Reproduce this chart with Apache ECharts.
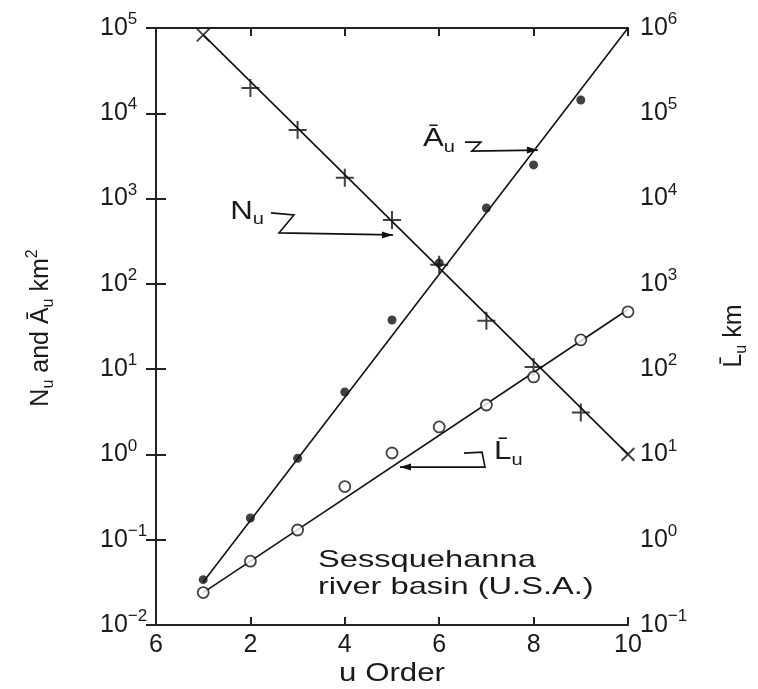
<!DOCTYPE html>
<html><head><meta charset="utf-8">
<script src="https://cdn.jsdelivr.net/npm/echarts@6/dist/echarts.min.js"></script>
<style>html,body{margin:0;padding:0;background:#fff}#c{width:758px;height:689px}</style>
</head><body><div id="c"></div>
<script>
// ---- data ----
const orders = [1, 2, 3, 4, 5, 6, 7, 8, 9, 10];
const xTickLabels = ['6', '2', '4', '6', '8', '10'];
const streamNumbers = [82800, 19800, 6370, 1750, 560, 167, 37, 10.6, 3.1, 1.0];    // N_u (left axis)
const areaOrders = [1, 2, 3, 4, 5, 6, 7, 8, 9];
const meanAreas = [0.034, 0.18, 0.9, 5.4, 37.7, 176, 776, 2480, 14300];           // A_u km^2 (left axis)
const meanLengths = [0.24, 0.56, 1.3, 4.2, 10.4, 21, 38, 81, 220, 470];           // L_u km (right axis)
const fitOrders = [1, 10];
const numberFit = [83000, 1.0];
const areaFit = [0.032, 100000];
const lengthFit = [0.24, 500];
const arrowTipA = [8.09, 3700];   // left axis
const arrowTipN = [5.02, 375];    // left axis
const arrowTipL = [5.17, 7.1];    // right axis

const FONT = 'Liberation Sans';
const INK = '#1a1a1a';
const chart = echarts.init(document.getElementById('c'), null, {renderer: 'canvas'});

function supLabel(v) {
  const e = Math.round(Math.log10(v));
  const s = e < 0 ? '\u2212' + (-e) : String(e);
  return '{b|10}{s|' + s + '}';
}
const tickRich = {
  b: {fontSize: 25, fontFamily: FONT, color: INK, lineHeight: 34},
  s: {fontSize: 17, fontFamily: FONT, color: INK, verticalAlign: 'top'}
};
const axisLine = {show: true, lineStyle: {color: '#222', width: 2}};

const pair = (xs, ys) => xs.map((x, i) => [x, ys[i]]);

const nData = orders.map((u, i) => {
  const end = (i === 0 || i === orders.length - 1);
  return {value: [u, streamNumbers[i]], symbolRotate: end ? 45 : 0};
});

chart.setOption({
  animation: false,
  backgroundColor: '#fff',
  grid: {left: 156, right: 130, top: 28, bottom: 64},
  xAxis: [
    {type: 'value', min: 0, max: 10, interval: 2, position: 'bottom',
     axisLine: axisLine, splitLine: {show: false},
     axisTick: {inside: true, length: 8, lineStyle: {color: '#222', width: 2}},
     axisLabel: {margin: 8, fontSize: 25, fontFamily: FONT, color: INK,
       formatter: v => xTickLabels[Math.round(v / 2)]}},
    {type: 'value', min: 0, max: 10, interval: 2, position: 'top',
     axisLine: axisLine, splitLine: {show: false},
     axisTick: {inside: true, length: 8, lineStyle: {color: '#222', width: 2}},
     axisLabel: {show: false}}
  ],
  yAxis: [
    {type: 'log', logBase: 10, min: 0.01, max: 100000, position: 'left',
     axisLine: axisLine, splitLine: {show: false},
     axisTick: {inside: true, length: 10, lineStyle: {color: '#222', width: 2}},
     axisLabel: {align: 'left', margin: 56, formatter: supLabel, rich: tickRich}},
    {type: 'log', logBase: 10, min: 0.1, max: 1000000, position: 'right',
     axisLine: axisLine, splitLine: {show: false},
     axisTick: {inside: true, length: 10, lineStyle: {color: '#222', width: 2}},
     axisLabel: {align: 'left', margin: 12, formatter: supLabel, rich: tickRich}}
  ],
  series: [
    {type: 'line', yAxisIndex: 0, data: pair(fitOrders, numberFit), showSymbol: false,
     lineStyle: {color: '#111', width: 1.6}, z: 2},
    {type: 'line', yAxisIndex: 0, data: pair(fitOrders, areaFit), showSymbol: false,
     lineStyle: {color: '#111', width: 1.6}, z: 2},
    {type: 'line', yAxisIndex: 1, data: pair(fitOrders, lengthFit), showSymbol: false,
     lineStyle: {color: '#111', width: 1.6}, z: 2},
    {type: 'scatter', yAxisIndex: 0, data: nData,
     symbol: 'path://M5,0L5,10M0,5L10,5', symbolSize: 18,
     itemStyle: {color: 'none', borderColor: '#111', borderWidth: 2}, z: 4},
    {type: 'scatter', yAxisIndex: 0, data: pair(areaOrders, meanAreas),
     symbol: 'circle', symbolSize: 9, itemStyle: {color: '#111'}, z: 4},
    {type: 'scatter', yAxisIndex: 1, data: pair(orders, meanLengths),
     symbol: 'circle', symbolSize: 11,
     itemStyle: {color: '#fff', borderColor: '#111', borderWidth: 1.8}, z: 4}
  ]
});

// ---- annotations ----
const px = (pt, yi) => chart.convertToPixel({xAxisIndex: 0, yAxisIndex: yi}, pt);
const tA = px(arrowTipA, 0), tN = px(arrowTipN, 0), tL = px(arrowTipL, 1);
const off = (t, dx, dy) => [t[0] + dx, t[1] + dy];
const lineSt = {stroke: '#111', lineWidth: 1.6, fill: null};
const subRich = {
  sb: {fontSize: 16, fontFamily: FONT, fill: INK, verticalAlign: 'bottom'},
  sp: {fontSize: 16, fontFamily: FONT, fill: INK, verticalAlign: 'top'}
};
function label(text, x, y, align, extra) {
  return Object.assign({
    type: 'text', x: x, y: y, z: 10,
    style: {text: text, rich: subRich, fontSize: 25, lineHeight: 32, fontFamily: FONT,
            fill: INK, align: align, textAlign: align, verticalAlign: 'middle', textVerticalAlign: 'middle'}
  }, extra || {});
}
function arrowRight(t) { return {type: 'polygon', z: 10, shape: {points: [t, off(t, -11, -3.5), off(t, -11, 3.5)]}, style: {fill: '#111'}}; }
function arrowLeft(t) { return {type: 'polygon', z: 10, shape: {points: [t, off(t, 11, -3.5), off(t, 11, 3.5)]}, style: {fill: '#111'}}; }

const graphics = [
  // A_u
  {type: 'polyline', z: 10, shape: {points: [tA, off(tA, -66, 1), off(tA, -57, -8), off(tA, -73, -8)]}, style: lineSt},
  arrowRight(tA),
  label('\u0100{sb|u}', tA[0] - 83, tA[1] - 11, 'right', {scaleX: 1.25}),
  // N_u
  {type: 'polyline', z: 10, shape: {points: [tN, off(tN, -114, -2), off(tN, -99, -20), off(tN, -122, -22)]}, style: lineSt},
  arrowRight(tN),
  label('N{sb|u}', tN[0] - 129, tN[1] - 23, 'right', {scaleX: 1.25}),
  // L_u
  {type: 'polyline', z: 10, shape: {points: [tL, off(tL, 85, 0), off(tL, 82, -15), off(tL, 64, -14)]}, style: lineSt},
  arrowLeft(tL),
  label('L\u0304{sb|u}', tL[0] + 94, tL[1] - 15, 'left', {scaleX: 1.25}),
  // axis titles
  label('N{sb|u} and \u0100{sb|u} km{sp|2}', 41, 328, 'center', {rotation: Math.PI / 2}),
  label('L\u0304{sb|u} km', 734, 336, 'center', {rotation: Math.PI / 2}),
  label('u Order', 392, 674, 'center', {scaleX: 1.2, style: {text: 'u Order', fontSize: 26, fontFamily: FONT, fill: INK, align: 'center', textAlign: 'center', verticalAlign: 'middle', textVerticalAlign: 'middle'}}),
  // basin note
  {type: 'text', x: 318, y: 547, z: 10, scaleX: 1.36,
   style: {text: 'Sessquehanna\nriver basin (U.S.A.)', fontSize: 24, lineHeight: 27, fontFamily: FONT,
           fill: INK, align: 'left', textAlign: 'left', verticalAlign: 'top', textVerticalAlign: 'top'}}
];
chart.setOption({graphic: graphics});
</script>
</body></html>
